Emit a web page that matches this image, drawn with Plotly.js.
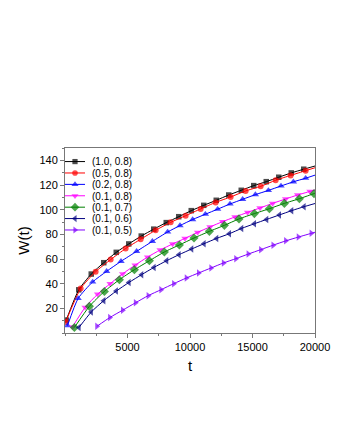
<!DOCTYPE html>
<html>
<head>
<meta charset="utf-8">
<script src="https://cdn.plot.ly/plotly-3.0.1.min.js"></script>
<style>
  html, body { margin: 0; padding: 0; background: #fff; }
  #plot { width: 340px; height: 440px; }
</style>
</head>
<body>
<div id="plot"></div>
<script>
// series labels (parameter pairs) and colours
var names = ["(1.0, 0.8)", "(0.5, 0.8)", "(0.2, 0.8)", "(0.1, 0.8)", "(0.1, 0.7)", "(0.1, 0.6)", "(0.1, 0.5)"];

var t1 = [100, 1100, 2100, 3100, 4100, 5100, 6100, 7100, 8100, 9100, 10100, 11100, 12100, 13100, 14100, 15100, 16100, 17100, 18100, 19100];
var w1 = [10.5, 35, 47.8, 57, 65.4, 72.2, 78.6, 84.2, 89.5, 94.3, 99.2, 103.5, 107.6, 111.9, 115.7, 119.5, 122.7, 126.3, 129.8, 132.8];

var t2 = [50, 1250, 2450, 3650, 4850, 6050, 7250, 8450, 9650, 10850, 12050, 13250, 14450, 15650, 16850, 18050, 19250];
var w2 = [9, 36, 49.7, 59.5, 68.5, 76, 83.3, 89.7, 95.1, 100.6, 105.9, 110.3, 115.2, 118.9, 123.8, 127.8, 131.6];

var t3 = [200, 1050, 2210, 3330, 4480, 5730, 6990, 8210, 9200, 10210, 11230, 12210, 13200, 14210, 15230, 16270, 17280, 18270, 19250];
var w3 = [6, 28, 41.4, 50, 58.1, 66.2, 74.3, 81.9, 87.1, 92, 96.3, 100.4, 104.6, 108.4, 112.2, 115.6, 119.2, 122.6, 125.5];

var t4 = [600, 1610, 2610, 3610, 4610, 5610, 6610, 7610, 8610, 9600, 10610, 11600, 12610, 13600, 14610, 15600, 16610, 17650, 18610, 19600];
var w4 = [5, 20.8, 31.5, 40, 48, 55, 61.6, 67.3, 72.2, 76.7, 81.6, 86, 90.3, 94.1, 97.8, 101.4, 105.1, 108.7, 111.9, 114.8];

var t5 = [750, 1950, 3150, 4350, 5550, 6750, 7950, 9150, 10320, 11550, 12750, 13920, 15150, 16350, 17550, 18750, 19920];
var w5 = [4.5, 21.6, 33.7, 43.2, 51.3, 58.6, 65.7, 71.4, 77, 82.4, 87.3, 92.5, 96.8, 100.8, 105.1, 108.9, 113];

var t6 = [1120, 2100, 3100, 4100, 5120, 6130, 7120, 8130, 9120, 10130, 11120, 12130, 13150, 14130, 15150, 16130, 17150, 18130, 19120];
var w6 = [4.5, 17, 26.2, 34, 41, 47.3, 53.2, 58.6, 63.5, 68.1, 72.4, 76.7, 80.5, 84.8, 88.6, 92.1, 95.7, 99.2, 102.4];

var t7 = [2550, 3580, 4610, 5640, 6660, 7680, 8700, 9710, 10690, 11680, 12680, 13670, 14660, 15660, 16650, 17660, 18670, 19700];
var w7 = [5.4, 12.5, 18.5, 24.5, 30.3, 35.1, 40, 44.6, 48.7, 52.7, 56.8, 60.3, 64, 67.6, 71.2, 74.7, 77.8, 80.8];

// fitted curves carry on to the right edge of the frame
var tEnd = 20000;
var wEnd = [135.4, 134, 128, 116, 113.3, 105, 81.7];

var xTicks = [5000, 10000, 15000, 20000];
var yTicks = [20, 40, 60, 80, 100, 120, 140];

var ts = [t1, t2, t3, t4, t5, t6, t7];
var ws = [w1, w2, w3, w4, w5, w6, w7];
var colors = ["#000000", "#ff0000", "#0000ff", "#ff00ff", "#008000", "#000080", "#8000ff"];
var symbols = ["square", "circle", "triangle-up", "triangle-down", "diamond", "triangle-left", "triangle-right"];
var sizes = [5.5, 6, 6.5, 6.5, 7, 6.5, 6.5];

var FONT = "Liberation Sans, Arial, sans-serif";

var data = [];
for (var i = 0; i < names.length; i++) {
  var sz = ts[i].map(function () { return sizes[i]; });
  sz.push(0);
  data.push({
    x: ts[i].concat([tEnd]),
    y: ws[i].concat([wEnd[i]]),
    name: names[i],
    type: "scatter",
    mode: "lines+markers",
    line: { color: colors[i], width: 1, shape: "spline", smoothing: 0.6 },
    marker: { color: colors[i], symbol: symbols[i], size: sz, line: { width: 0 } }
  });
}

var axisCommon = {
  showline: true,
  mirror: true,
  linecolor: "#777",
  linewidth: 1,
  showgrid: false,
  zeroline: false,
  ticks: "outside",
  ticklen: 4,
  tickcolor: "#777",
  tickfont: { family: FONT, size: 11, color: "#000" }
};

var layout = {
  width: 340,
  height: 440,
  margin: { l: 65, r: 25, t: 148, b: 107 },
  paper_bgcolor: "#fff",
  plot_bgcolor: "#fff",
  font: { family: FONT, color: "#000" },
  showlegend: true,
  legend: {
    x: 0.0, y: 1.005, xanchor: "left", yanchor: "top",
    bgcolor: "rgba(0,0,0,0)", borderwidth: 0,
    font: { family: FONT, size: 10, color: "#000" },
    itemwidth: 30, tracegroupgap: 0
  },
  xaxis: Object.assign({}, axisCommon, {
    range: [0, 20000],
    tickmode: "array",
    tickvals: xTicks,
    tickformat: "d",
    minor: { ticks: "outside", ticklen: 2, tickcolor: "#777", dtick: 2500, tick0: 0 },
    title: { text: "t", font: { family: FONT, size: 15 }, standoff: 8 }
  }),
  yaxis: Object.assign({}, axisCommon, {
    range: [0, 150],
    tickmode: "array",
    tickvals: yTicks,
    minor: { ticks: "outside", ticklen: 2, tickcolor: "#777", dtick: 10, tick0: 0 },
    title: { text: "W(t)", font: { family: FONT, size: 15 }, standoff: 6 }
  })
};

Plotly.newPlot("plot", data, layout, { staticPlot: true, displayModeBar: false }).then(function (gd) {
  // legend rows in the original are packed tighter than plotly's minimum row height,
  // and the line sample is shorter
  var rows = gd.querySelectorAll(".legend .traces");
  var step = 11.4;
  var y0 = null;
  rows.forEach(function (el, k) {
    var tr = el.getAttribute("transform") || "";
    var m = tr.match(/translate\(([-\d.]+),\s*([-\d.]+)\)/);
    if (!m) return;
    if (y0 === null) y0 = parseFloat(m[2]);
    el.setAttribute("transform", "translate(" + (parseFloat(m[1]) - 5) + "," + (y0 + k * step) + ")");
    el.querySelectorAll(".legendlines path").forEach(function (p) { p.setAttribute("d", "M5,0h20"); });
    el.querySelectorAll(".legendpoints path").forEach(function (p) { p.setAttribute("transform", "translate(15,0)"); });
    el.querySelectorAll("text.legendtext").forEach(function (tx) { tx.setAttribute("x", "32"); });
  });
});
</script>
</body>
</html>
